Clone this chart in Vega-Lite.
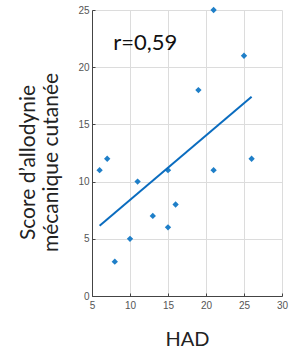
{
  "$schema": "https://vega.github.io/schema/vega-lite/v6.json",
  "width": 190,
  "height": 286,
  "autosize": {"type": "none"},
  "padding": {"left": 92, "top": 10, "right": 9, "bottom": 64},
  "background": "white",
  "config": {"view": {"stroke": null}},
  "datasets": {
    "pts": [
      {"HAD": 6, "score": 11}, {"HAD": 7, "score": 12}, {"HAD": 8, "score": 3},
      {"HAD": 10, "score": 5}, {"HAD": 11, "score": 10}, {"HAD": 13, "score": 7},
      {"HAD": 15, "score": 11}, {"HAD": 15, "score": 6}, {"HAD": 16, "score": 8},
      {"HAD": 19, "score": 18}, {"HAD": 21, "score": 25}, {"HAD": 21, "score": 11},
      {"HAD": 25, "score": 21}, {"HAD": 26, "score": 12}
    ],
    "fit": [{"HAD": 6, "score": 6.15}, {"HAD": 26, "score": 17.42}],
    "lab": [{"HAD": 7.8, "score": 22.1, "t": "r=0,59"}]
  },
  "encoding": {
    "x": {"field": "HAD", "type": "quantitative",
      "scale": {"domain": [5, 30], "nice": false, "zero": false},
      "axis": {"values": [5, 10, 15, 20, 25, 30], "title": "HAD", "grid": true, "gridColor": "#dcdcdc", "gridOpacity": 1,
        "labelOverlap": false, "labelFlush": false, "labelBound": false, "format": "d",
        "domainColor": "#444", "tickColor": "#444", "tickSize": -3, "labelPadding": 7,
        "labelColor": "#555", "labelFont": "Liberation Sans", "labelFontSize": 10,
        "titleFont": "Lato", "titleFontSize": 20, "titleFontWeight": "normal", "titleColor": "#222",
        "titlePadding": 19}},
    "y": {"field": "score", "type": "quantitative",
      "scale": {"domain": [0, 25], "nice": false},
      "axis": {"values": [0, 5, 10, 15, 20, 25], "title": ["Score d’allodynie", "mécanique cutanée"],
        "grid": true, "gridColor": "#dcdcdc", "gridOpacity": 1,
        "labelOverlap": false, "labelFlush": false, "labelBound": false, "format": "d",
        "domainColor": "#444", "tickColor": "#444", "tickSize": -3, "labelPadding": 6,
        "labelColor": "#555", "labelFont": "Liberation Sans", "labelFontSize": 10,
        "titleFont": "Lato", "titleFontSize": 21, "titleFontWeight": "normal", "titleColor": "#222",
        "titleLineHeight": 23, "titleAngle": -90, "titleX": -64, "titleY": 152, "titleAlign": "center", "titleBaseline": "middle"}}
  },
  "layer": [
    {
      "data": {"name": "pts"},
      "mark": {"type": "point", "shape": "diamond", "filled": true, "size": 40, "color": "#1f7fc8", "opacity": 1}
    },
    {
      "data": {"name": "fit"},
      "mark": {"type": "line", "color": "#0a6cbf", "strokeWidth": 2}
    },
    {
      "data": {"name": "lab"},
      "mark": {"type": "text", "align": "left", "baseline": "middle", "font": "Lato", "fontSize": 22, "color": "#111"},
      "encoding": {"text": {"field": "t"}}
    }
  ]
}
